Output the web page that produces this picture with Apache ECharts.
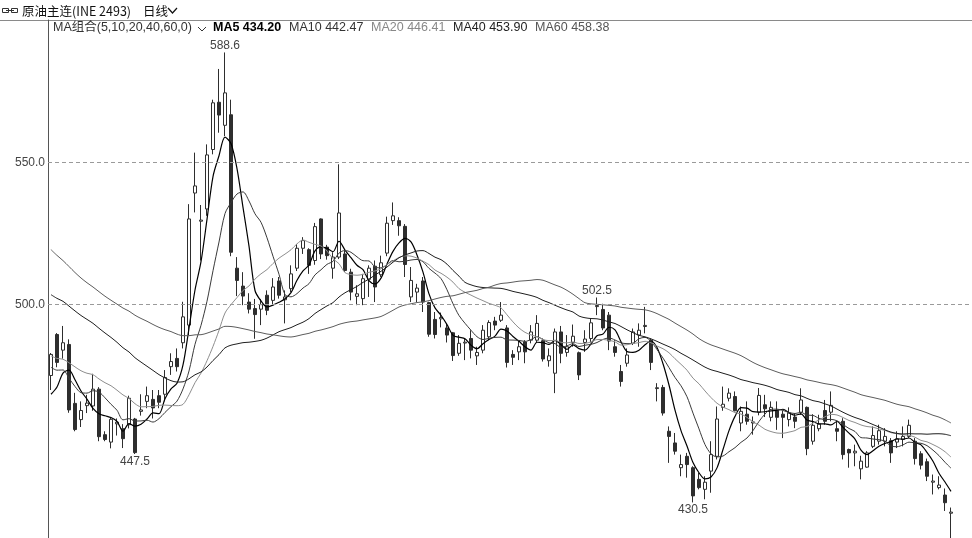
<!DOCTYPE html>
<html><head><meta charset="utf-8">
<script src="https://cdn.jsdelivr.net/npm/echarts@6/dist/echarts.min.js"></script>
<style>html,body{margin:0;padding:0;background:#fff}#c{width:972px;height:538px}</style>
</head><body><div id="c"></div>
<script>
// ---- data ----
const opens = [475.1,489.5,484.0,486.0,465.3,459.6,464.5,464.4,470.3,454.3,451.7,458.1,456.4,457.8,459.8,462.5,466.0,466.7,468.0,468.5,
478.2,481.1,486.6,492.8,539.2,529.3,533.6,554.5,571.1,563.0,566.7,512.8,506.5,500.9,498.6,498.4,503.3,501.5,508.3,501.7,
505.6,512.8,519.8,519.3,515.5,530.1,520.2,512.8,516.7,517.8,511.4,502.9,502.1,508.9,513.5,510.5,518.1,529.5,529.5,527.5,
502.7,504.4,508.3,500.7,494.8,495.0,491.8,490.1,482.9,486.5,488.1,482.0,484.0,488.7,494.2,494.5,491.8,482.5,483.4,486.9,
487.5,487.5,487.3,480.3,475.9,490.4,483.2,486.7,483.1,486.7,488.1,499.3,498.3,496.3,485.2,476.5,479.4,486.4,489.3,492.3,
487.5,470.5,470.9,455.5,451.4,442.7,446.7,442.7,438.6,435.1,441.5,446.7,463.9,467.1,467.7,458.4,461.5,458.4,462.2,464.8,
460.4,462.7,461.5,459.6,460.5,462.2,463.9,452.0,456.4,462.8,462.2,456.4,459.0,449.1,447.9,442.3,442.9,450.2,452.0,452.0,
452.2,451.7,452.6,453.7,452.0,447.6,444.8,437.6,435.7,433.1,426.7];
const closes = [482.5,479.7,486.6,463.0,456.1,462.8,465.4,470.3,453.6,452.6,459.7,458.7,452.9,467.1,448.0,463.0,468.0,463.7,465.7,474.4,
480.0,478.2,495.7,530.1,541.7,529.7,552.6,570.9,566.6,574.4,518.4,508.5,503.0,498.4,496.5,500.0,498.0,506.2,503.3,502.7,
510.8,519.8,522.5,513.8,527.4,517.8,517.2,516.7,532.2,512.0,504.4,503.8,509.1,512.8,506.2,514.7,528.6,531.2,527.7,514.1,
508.5,505.8,500.9,489.6,489.5,495.5,489.3,482.1,486.4,486.8,484.0,483.2,491.0,493.7,492.8,496.3,479.7,481.5,485.2,483.4,
490.4,493.4,480.9,482.0,490.4,482.9,485.2,488.9,475.3,487.9,493.6,499.7,491.8,487.2,483.2,473.0,482.3,490.4,491.0,492.7,
479.7,470.8,461.9,453.7,448.5,443.8,443.8,432.8,435.7,437.6,447.3,459.8,465.0,468.9,462.7,462.5,459.0,458.8,468.1,463.4,
463.9,460.4,460.4,461.9,459.0,466.5,449.4,457.6,458.0,459.0,464.6,455.5,447.3,447.9,448.5,445.0,447.9,454.0,455.7,453.7,
447.9,452.8,453.7,457.6,445.9,443.6,439.7,438.0,436.6,430.4,427.1];
const highs = [483.0,490.0,492.5,487.8,469.0,466.0,468.3,475.7,471.0,455.5,460.5,460.0,458.0,468.0,460.2,468.5,471.2,470.0,470.0,477.0,
482.9,484.6,501.0,535.3,553.4,535.0,556.3,572.0,582.8,588.6,572.0,516.7,511.4,504.0,502.0,502.0,505.0,509.3,509.7,505.0,
513.8,521.3,523.7,519.8,528.7,530.3,521.0,518.4,549.3,519.3,512.6,506.8,510.8,513.8,515.5,517.2,530.9,535.9,530.7,528.3,
513.2,507.3,509.7,501.0,497.4,497.2,493.4,490.4,489.3,488.1,491.0,485.2,492.8,494.5,495.7,500.9,492.8,484.0,487.5,487.5,
492.8,496.3,488.1,484.6,491.6,492.5,489.3,493.0,483.5,491.0,495.1,502.5,500.3,497.4,487.5,478.8,484.6,491.6,493.4,499.2,
488.1,472.4,471.8,457.2,454.9,447.3,447.9,443.2,440.9,439.7,452.0,464.2,471.2,470.6,469.5,464.2,466.0,460.7,470.7,468.3,
466.0,466.0,462.7,463.9,461.9,470.6,464.2,461.5,461.3,466.5,469.5,459.0,460.1,449.4,450.8,446.9,448.5,457.2,457.8,456.6,
453.1,455.5,457.2,459.6,453.1,448.5,445.9,440.3,439.7,435.4,428.7];
const lows = [470.0,478.0,481.0,462.0,455.5,457.0,461.9,462.7,452.0,452.0,449.5,454.0,449.6,456.5,447.5,461.0,463.6,460.0,463.6,466.0,
475.3,476.5,484.6,489.3,532.4,515.5,531.2,552.8,560.4,559.2,517.0,503.0,499.8,496.9,488.0,492.8,496.3,499.8,502.1,493.4,
504.4,511.8,517.8,510.8,514.0,516.0,515.8,509.1,516.0,511.4,501.5,499.8,499.8,502.7,500.9,509.7,517.0,528.0,524.2,509.7,
500.9,500.9,497.4,488.7,488.1,492.0,486.7,480.2,482.0,480.5,481.1,478.8,482.9,487.5,491.0,493.9,477.9,478.8,480.5,479.4,
486.4,486.7,480.0,478.2,468.9,479.4,481.7,485.2,473.5,483.4,486.7,496.3,491.0,484.0,481.7,471.2,478.2,485.8,485.2,489.9,
477.0,466.0,461.0,444.4,447.3,439.7,439.2,430.5,435.1,431.6,433.9,445.6,462.7,466.0,462.5,455.5,457.8,454.3,461.1,460.5,
459.0,456.0,453.1,457.2,456.6,461.3,447.1,450.8,455.5,457.8,459.0,452.0,445.6,442.7,443.2,438.6,442.7,449.6,450.8,450.2,
444.4,449.6,450.2,453.1,443.8,442.1,438.0,433.3,435.1,427.5,418.0];
// closes before the visible window (estimated from where the MA lines start)
const priorCloses = [600,596,588,583,578,566,560,552,548,545,540,536,532,535,530,528,531,526,524,520,
532,528,530,524,527,520,526,523,519,522,527,530,526,529,524,527,522,525,521,518,
498,492,488,485,490,483,480,484,479,481,
490,486,492,485,484.5,
467,462,458,473];
const maPeriods = [5,10,20,40,60];
const maHeader = ['MA5 434.20','MA10 442.47','MA20 446.41','MA40 453.90','MA60 458.38'];
const gridValues = [550, 500];
const highLabelIdx = [29, 91];
const lowLabelIdx = [14, 107];
const padCount = 3;

// ---- build ----
const categories = closes.map((_, i) => 'd' + (i + 1));
for (let k = 0; k < padCount; k++) categories.push('pad' + k);
const all = priorCloses.concat(closes);
function ma(n) {
  return closes.map((_, i) => {
    const j = i + priorCloses.length;
    let s = 0;
    for (let k = j - n + 1; k <= j; k++) s += all[k];
    return +(s / n).toFixed(2);
  });
}
const candleData = closes.map((c, i) => [opens[i], c, lows[i], highs[i]]);
const maColors = ['#000000', '#3a3a3a', '#8e8e8e', '#1e1e1e', '#5c5c5c'];
const maWidths = [1.2, 1, 1, 1, 1];
const FONT = "'Liberation Sans','Noto Sans CJK SC',sans-serif";

const markPts = [];
highLabelIdx.forEach(i => markPts.push({coord: [categories[i], highs[i]], value: highs[i].toFixed(1), label: {position: 'top', distance: 0}}));
lowLabelIdx.forEach(i => markPts.push({coord: [categories[i], lows[i]], value: lows[i].toFixed(1), label: {position: 'bottom', distance: 1}}));

const series = [{
  type: 'candlestick',
  data: candleData,
  barWidth: 3,
  z: 2,
  clip: false,
  itemStyle: {color: '#ffffff', color0: '#2e2e2e', borderColor: '#2e2e2e', borderColor0: '#2e2e2e', borderWidth: 1},
  markLine: {
    silent: true, symbol: ['none', 'none'], animation: false,
    lineStyle: {type: [4, 3], color: '#9a9a9a', width: 1},
    label: {position: 'start', distance: 3, color: '#444', fontSize: 12, fontFamily: FONT, formatter: p => Number(p.value).toFixed(1)},
    data: gridValues.map(v => ({yAxis: v}))
  },
  markPoint: {
    silent: true, symbol: 'rect', symbolSize: 1, animation: false,
    itemStyle: {color: 'rgba(0,0,0,0)'},
    label: {show: true, color: '#444', fontSize: 12, fontFamily: FONT, formatter: p => p.value},
    data: markPts
  }
}];
maPeriods.forEach((n, k) => series.push({
  type: 'line', data: ma(n), symbol: 'none', smooth: 0.3, z: 3, silent: true,
  lineStyle: {color: maColors[k], width: maWidths[k]}
}));

const headerX = [213, 289, 371, 453, 535];
const headerColors = ['#000', '#333', '#888', '#222', '#555'];
const graphic = [
  {type: 'line', shape: {x1: 0, y1: 20.5, x2: 972, y2: 20.5}, style: {stroke: '#8a8a8a', lineWidth: 1}},
  {type: 'rect', shape: {x: 2.5, y: 8.5, width: 6, height: 4}, style: {fill: 'none', stroke: '#333', lineWidth: 1}},
  {type: 'rect', shape: {x: 11.5, y: 8.5, width: 6, height: 4}, style: {fill: 'none', stroke: '#333', lineWidth: 1}},
  {type: 'line', shape: {x1: 6, y1: 10.5, x2: 14, y2: 10.5}, style: {stroke: '#333', lineWidth: 1}},
  {type: 'text', x: 22, y: 11, style: {text: '原油主连(INE 2493)', font: "12.5px 'Noto Sans CJK SC'", fill: '#111', verticalAlign: 'middle'}},
  {type: 'text', x: 143, y: 11, style: {text: '日线', font: "12.5px 'Noto Sans CJK SC'", fill: '#111', verticalAlign: 'middle'}},
  {type: 'polyline', shape: {points: [[168, 8], [172.5, 13], [177, 8]]}, style: {stroke: '#111', lineWidth: 1.2, fill: 'none'}},
  {type: 'text', x: 53, y: 28, style: {text: 'MA组合(5,10,20,40,60,0)', font: "12.5px 'Liberation Sans','Noto Sans CJK SC'", fill: '#333', verticalAlign: 'middle'}},
  {type: 'polyline', shape: {points: [[198, 27], [202, 31], [206, 27]]}, style: {stroke: '#333', lineWidth: 1, fill: 'none'}}
];
maHeader.forEach((t, k) => graphic.push({type: 'text', x: headerX[k], y: 28,
  style: {text: t, font: (k === 0 ? 'bold ' : '') + "12.5px 'Liberation Sans'", fill: headerColors[k], verticalAlign: 'middle'}}));

const chart = echarts.init(document.getElementById('c'), null, {renderer: 'canvas'});
chart.setOption({
  animation: false,
  backgroundColor: '#fff',
  grid: {left: 48, right: 0, top: 20, bottom: -3},
  xAxis: {type: 'category', data: categories, boundaryGap: true,
    axisLine: {show: false}, axisTick: {show: false}, axisLabel: {show: false}, splitLine: {show: false}},
  yAxis: {type: 'value', min: 418, max: 600, scale: true,
    axisLine: {show: true, lineStyle: {color: '#555', width: 1}}, axisTick: {show: false},
    axisLabel: {show: false}, splitLine: {show: false}},
  series: series,
  graphic: graphic
});
</script></body></html>
